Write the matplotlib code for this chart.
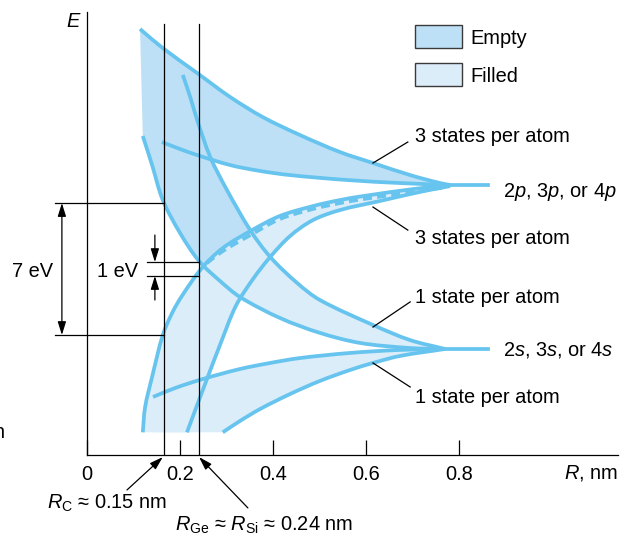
import numpy as np
import matplotlib.pyplot as plt
from matplotlib.patches import Rectangle, PathPatch
from matplotlib.path import Path

plt.rcParams['font.family'] = ['Liberation Sans', 'DejaVu Sans']
plt.rcParams['mathtext.fontset'] = 'custom'
plt.rcParams['mathtext.rm'] = 'Liberation Sans'
plt.rcParams['mathtext.it'] = 'Liberation Sans:italic'
plt.rcParams['font.size'] = 14.4

# Band edges: R in nm, E in eV above the R axis
# upper p band (3 states per atom)
p_hi_top_R = [0.114, 0.163, 0.237, 0.308, 0.378, 0.458, 0.544, 0.615, 0.695, 0.759, 0.781]
p_hi_top_E = [22.54, 21.53, 20.21, 18.94, 17.88, 16.93, 16.03, 15.45, 14.81, 14.39, 14.29]
p_hi_bot_R = [0.161, 0.200, 0.237, 0.308, 0.372, 0.437, 0.559, 0.673, 0.774]
p_hi_bot_E = [16.56, 16.19, 15.87, 15.34, 15.03, 14.81, 14.55, 14.39, 14.29]
# lower p band (3 states per atom)
p_lo_top_R = [0.120, 0.125, 0.140, 0.163, 0.183, 0.204, 0.247, 0.292, 0.355, 0.415, 0.486,
              0.544, 0.594, 0.701, 0.781]
p_lo_top_E = [1.20, 2.54, 4.13, 6.35, 7.51, 8.41, 9.89, 10.95, 11.90, 12.65, 13.17,
              13.49, 13.70, 14.07, 14.29]
p_lo_dash_R = [0.258, 0.292, 0.355, 0.415, 0.486, 0.544, 0.594, 0.701, 0.774]
p_lo_dash_E = [10.16, 10.79, 11.69, 12.49, 13.02, 13.33, 13.54, 13.92, 14.18]
p_lo_bot_R = [0.215, 0.237, 0.258, 0.286, 0.320, 0.357, 0.394, 0.437, 0.486, 0.544, 0.630,
              0.716, 0.781]
p_lo_bot_E = [1.20, 2.65, 4.02, 5.82, 7.88, 9.31, 10.48, 11.59, 12.43, 12.96, 13.44,
              13.92, 14.23]
# upper s band (1 state per atom)
s_hi_top_R = [0.206, 0.222, 0.237, 0.265, 0.301, 0.351, 0.394, 0.452, 0.501, 0.615, 0.695, 0.770]
s_hi_top_E = [20.11, 18.94, 17.72, 15.77, 14.02, 11.90, 10.48, 9.10, 8.20, 6.88, 6.08, 5.61]
s_hi_bot_R = [0.120, 0.140, 0.163, 0.200, 0.241, 0.286, 0.329, 0.415, 0.501, 0.587, 0.695, 0.770]
s_hi_bot_E = [16.88, 15.34, 13.49, 11.75, 10.26, 9.21, 8.36, 7.25, 6.46, 5.93, 5.66, 5.61]
# lower s band (1 state per atom)
s_lo_top_R = [0.142, 0.189, 0.249, 0.329, 0.394, 0.458, 0.566, 0.673, 0.770]
s_lo_top_E = [3.07, 3.54, 4.02, 4.55, 4.87, 5.13, 5.40, 5.56, 5.61]
s_lo_bot_R = [0.292, 0.329, 0.372, 0.437, 0.501, 0.566, 0.615, 0.673, 0.770]
s_lo_bot_E = [1.20, 1.80, 2.43, 3.23, 3.92, 4.50, 4.87, 5.24, 5.61]

# atomic levels and where their lines stop
p_level = 14.29
s_level = 5.61
level_end = 0.862

# spacings marked on the figure
r_c = 0.166
r_si = 0.240
gap_c = (6.35, 13.33)
gap_si = (9.47, 10.21)

xticks = [0, 0.2, 0.4, 0.6, 0.8]
xticklabels = ['0', '0.2', '0.4', '0.6', '0.8']

line_c = '#66c4ee'
dark_c = '#bde0f6'
light_c = '#dcedfa'

fig = plt.figure(figsize=(6.27, 5.35), dpi=100)
ax = fig.add_axes([87 / 627, 80 / 535, 531 / 627, 443 / 535])
ax.set_xlim(0, 1.142)
ax.set_ylim(0, 23.44)
for s in ['top', 'right']:
    ax.spines[s].set_visible(False)
for s in ['left', 'bottom']:
    ax.spines[s].set_linewidth(0.9)
ax.set_yticks([])
ax.set_xticks(xticks)
ax.set_xticklabels(xticklabels)
ax.tick_params(axis='x', direction='in', length=10.8, width=0.9, pad=7)


def smooth(R, E):
    # smooth cubic pieces through the read points (chord-length Catmull-Rom)
    P = np.column_stack([R, E]).astype(float)
    d = np.linalg.norm(np.diff(ax.transData.transform(P), axis=0), axis=1)
    t = np.r_[0, np.cumsum(d)]
    T = np.zeros_like(P)
    T[1:-1] = (P[2:] - P[:-2]) / (t[2:] - t[:-2])[:, None]
    T[0] = (P[1] - P[0]) / d[0]
    T[-1] = (P[-1] - P[-2]) / d[-1]
    verts = [P[0]]
    for i in range(len(P) - 1):
        h = d[i] / 3
        verts += [P[i] + T[i] * h, P[i + 1] - T[i + 1] * h, P[i + 1]]
    verts = np.array(verts)
    codes = [Path.MOVETO] + [Path.CURVE4] * (len(verts) - 1)
    return verts, codes


def band(*parts):
    # closed outline: each part is (R, E, reversed?)
    verts, codes = [], []
    for R, E, rev in parts:
        v, c = smooth(R, E)
        if rev:
            v = v[::-1]
        c = list(c)
        if verts:
            c[0] = Path.LINETO
        verts.append(v)
        codes += c
    verts = np.vstack(verts + [verts[0][:1]])
    codes += [Path.CLOSEPOLY]
    return Path(verts, codes)


def fill(path, color, z):
    p = PathPatch(path, facecolor=color, edgecolor='none', lw=0, zorder=z,
                  transform=ax.transData)
    ax.add_patch(p)
    return p


# filled (lower) bands
fill(band((p_lo_top_R, p_lo_top_E, True), (p_lo_bot_R, p_lo_bot_E, False)), light_c, 1)
fill(band((s_hi_bot_R, s_hi_bot_E, False), (s_hi_top_R, s_hi_top_E, True)), light_c, 1)
fill(band((s_lo_top_R, s_lo_top_E, False), (s_lo_bot_R, s_lo_bot_E, True),
          ([s_lo_bot_R[0], s_lo_top_R[0]], [s_lo_bot_E[0], s_lo_bot_E[0]], False)),
     light_c, 1)

# empty (upper) bands
fill(band((p_hi_top_R, p_hi_top_E, False), (p_hi_bot_R, p_hi_bot_E, True),
          ([p_hi_bot_R[0], s_hi_bot_R[0]], [p_hi_bot_E[0], s_hi_bot_E[0]], False)),
     dark_c, 1.5)
above = band((p_lo_top_R, p_lo_top_E, False),
             ([p_lo_top_R[-1], p_lo_top_R[-1], -1, -1],
              [p_lo_top_E[-1], 30, 30, p_lo_top_E[0]], False))
part = fill(band((s_hi_bot_R, s_hi_bot_E, False), (s_hi_top_R, s_hi_top_E, True)), dark_c, 1.5)
part.set_clip_path(above, ax.transData)

lw = 2.7
for R, E in [(p_hi_top_R, p_hi_top_E), (p_hi_bot_R, p_hi_bot_E),
             (p_lo_top_R, p_lo_top_E), (p_lo_bot_R, p_lo_bot_E),
             (s_hi_top_R, s_hi_top_E), (s_hi_bot_R, s_hi_bot_E),
             (s_lo_top_R, s_lo_top_E), (s_lo_bot_R, s_lo_bot_E)]:
    ax.add_patch(PathPatch(Path(*smooth(R, E)), fill=False, edgecolor=line_c, lw=lw,
                           capstyle='butt', zorder=2))
ax.add_patch(PathPatch(Path(*smooth(p_lo_dash_R, p_lo_dash_E)), fill=False,
                       edgecolor=line_c, lw=lw, linestyle=(0, (2.4, 1.4)), zorder=2))
ax.plot([p_hi_top_R[-1], level_end], [p_level, p_level], color=line_c, lw=lw, zorder=2)
ax.plot([s_hi_top_R[-1], level_end], [s_level, s_level], color=line_c, lw=lw, zorder=2)

# spacing markers
for r in [r_c, r_si]:
    ax.plot([r, r], [0, 22.80], color='k', lw=0.9, zorder=3)
for e in gap_c:
    ax.plot([-0.069, r_c], [e, e], color='k', lw=0.9, zorder=3, clip_on=False)
for e in gap_si:
    ax.plot([0.129, r_si], [e, e], color='k', lw=0.9, zorder=3, clip_on=False)

head = '-|>,head_length=0.8,head_width=0.25'
arrow = dict(arrowstyle=head, color='k', lw=0.9, mutation_scale=10, shrinkA=0, shrinkB=0)
ax.annotate('', xy=(-0.054, gap_c[1]), xytext=(-0.054, gap_c[0]), annotation_clip=False,
            arrowprops=dict(arrow, arrowstyle='<|-|>,head_length=0.8,head_width=0.25'))
ax.annotate('', xy=(0.146, gap_si[1]), xytext=(0.146, 11.64), annotation_clip=False,
            arrowprops=arrow)
ax.annotate('', xy=(0.146, gap_si[0]), xytext=(0.146, 8.20), annotation_clip=False,
            arrowprops=arrow)
ax.text(-0.073, 9.42, '7 eV', ha='right', va='baseline')
ax.text(0.110, 9.42, '1 eV', ha='right', va='baseline')

# radius callouts below the axis
ax.annotate('', xy=(r_c - 0.003, -0.11), xytext=(0.086, -1.85), annotation_clip=False,
            arrowprops=arrow)
ax.annotate('', xy=(r_si + 0.001, -0.11), xytext=(0.346, -2.80), annotation_clip=False,
            arrowprops=arrow)
ax.text(-0.086, -2.86, r'$R_\mathrm{C}$ ≈ 0.15 nm', ha='left', va='baseline')
ax.text(0.189, -4.02, r'$R_\mathrm{Ge}$ ≈ $R_\mathrm{Si}$ ≈ 0.24 nm', ha='left', va='baseline')

# band labels with leader lines
leaders = [((0.615, 15.45), (0.690, 16.56)), ((0.615, 13.12), (0.690, 11.90)),
           ((0.615, 6.77), (0.695, 8.10)), ((0.615, 4.87), (0.695, 3.60))]
for (x0, y0), (x1, y1) in leaders:
    ax.plot([x0, x1], [y0, y1], color='k', lw=0.9, zorder=3)
ax.text(0.705, 16.56, '3 states per atom', va='baseline')
ax.text(0.705, 11.16, '3 states per atom', va='baseline')
ax.text(0.705, 8.04, '1 state per atom', va='baseline')
ax.text(0.705, 2.75, '1 state per atom', va='baseline')
ax.text(0.895, 13.65, r'2$p$, 3$p$, or 4$p$', va='baseline')
ax.text(0.895, 5.24, r'2$s$, 3$s$, or 4$s$', va='baseline')

# axis names
ax.text(-0.031, 22.65, 'E', style='italic', ha='center', va='baseline')
ax.text(1.142, -1.22, r'$R$, nm', ha='right', va='baseline')
ax.text(-0.176, 0.90, 'n', ha='right', va='baseline')

# key
ax.add_patch(Rectangle((0.705, 21.53), 0.101, 1.22, facecolor=dark_c,
                       edgecolor='#3a3a3a', lw=1.0, clip_on=False))
ax.add_patch(Rectangle((0.705, 19.52), 0.101, 1.22, facecolor=light_c,
                       edgecolor='#3a3a3a', lw=1.0, clip_on=False))
ax.text(0.824, 21.75, 'Empty', va='baseline')
ax.text(0.824, 19.74, 'Filled', va='baseline')

fig.savefig('out.png', dpi=100)
